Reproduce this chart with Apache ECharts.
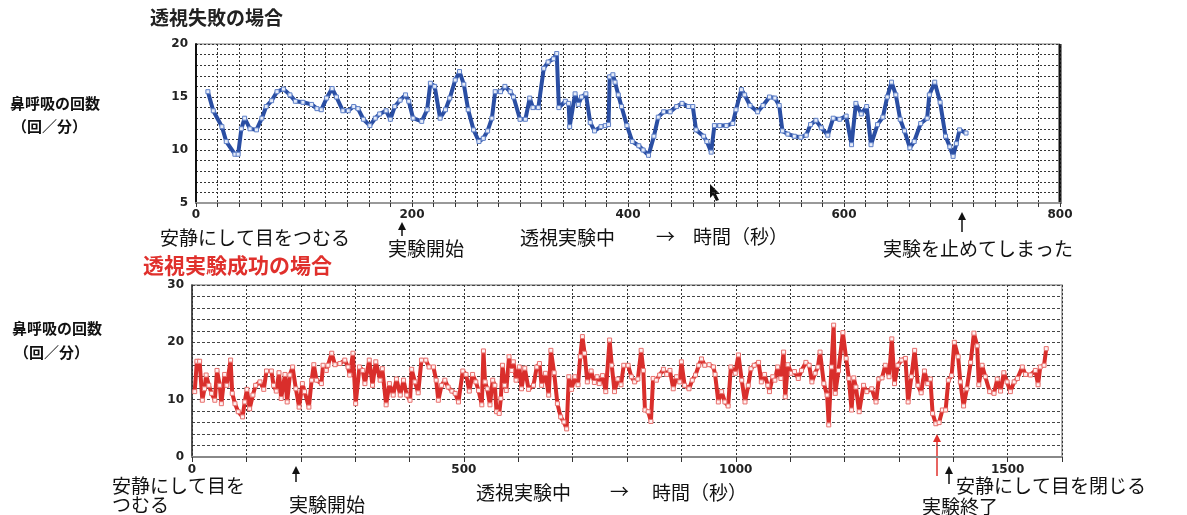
<!DOCTYPE html>
<html>
<head>
<meta charset="utf-8">
<title>鼻呼吸の回数</title>
<script src="https://cdn.jsdelivr.net/npm/echarts@6/dist/echarts.min.js"></script>
<style>
  html, body { margin: 0; padding: 0; background: #fff; }
  #main { width: 1187px; height: 515px; }
</style>
</head>
<body>
<div id="main"></div>
<script>
// 透視失敗の場合（秒, 回/分）
const failTime = [11,16,24,28,36,39,42,45,50,56,61,65,70,75,81,87,92,99,107,112,116,121,126,130,136,141,146,150,155,161,166,170,176,180,184,189,194,197,201,209,214,217,221,226,231,235,240,244,248,252,257,262,266,270,274,277,282,286,291,294,300,305,309,312,317,322,326,331,334,336,342,345,346,351,354,357,361,365,369,375,379,382,383,386,388,391,394,399,404,410,414,419,424,428,433,439,445,450,456,460,463,470,473,477,480,485,491,497,500,505,508,513,520,525,531,536,540,543,548,554,560,565,569,574,579,585,590,596,602,607,611,616,621,625,631,636,640,644,648,652,656,661,665,671,677,679,684,689,694,698,701,704,707,713];
const failRate = [15.5,13.7,12.2,10.8,9.6,9.6,12.0,13.0,12.0,11.9,13.0,14.1,14.65,15.5,15.75,15.2,14.6,14.5,14.3,13.9,13.8,14.9,15.8,15.0,13.7,13.7,14.1,13.9,12.9,12.3,13.0,13.4,13.7,12.9,14.1,14.7,15.2,14.6,13.0,12.7,13.8,16.3,16.0,13.0,13.8,14.9,16.6,17.4,16.2,13.8,11.9,10.8,11.1,11.8,13.0,15.5,15.5,16.0,15.5,15.0,12.9,12.9,14.9,14.0,14.0,17.7,18.3,18.6,19.1,14.0,14.6,14.4,12.2,15.3,14.3,15.0,15.3,12.6,11.8,12.2,12.3,12.4,16.9,17.1,16.4,15.2,14.1,12.3,10.8,10.4,10.0,9.5,11.3,13.1,13.6,13.6,14.1,14.4,14.1,14.1,11.9,11.3,10.8,9.8,12.3,12.3,12.3,12.5,13.8,15.7,15.2,14.2,13.6,14.2,15.0,14.9,14.2,11.8,11.5,11.3,11.2,11.4,12.4,12.8,12.1,11.4,13.0,12.9,13.2,10.5,14.4,13.4,14.1,10.5,12.4,13.1,15.0,16.4,15.2,12.9,11.8,10.2,10.8,12.5,13.0,15.2,16.4,14.5,11.3,10.3,9.4,10.6,11.9,11.6];

// 透視実験成功の場合（秒, 回/分）
const okTime = [5,9,14,19,23,26,31,36,42,46,51,54,60,64,71,74,79,85,93,97,101,106,112,117,125,132,137,146,150,155,160,164,171,175,180,185,191,197,203,207,215,220,224,229,238,241,247,250,257,263,272,281,287,290,296,301,308,314,318,326,332,338,346,350,357,363,370,376,383,389,395,401,404,410,416,422,430,436,444,449,453,459,465,471,478,484,490,498,504,510,516,522,527,533,536,
  539,543,548,553,557,560,565,568,571,575,578,583,588,591,596,602,606,612,619,628,634,639,643,650,656,660,666,672,678,684,689,693,698,704,710,714,718,722,727,734,740,745,749,755,761,768,772,777,783,789,794,802,808,814,820,826,830,833,839,844,848,854,860,867,873,879,885,891,897,900,906,914,920,926,932,937,943,951,959,962,968,974,980,986,991,999,1005,1011,1017,1023,1028,1034,1042,1047,1053,1059,1062,1068,
  1072,1077,1083,1088,1091,1096,1102,1108,1115,1121,1129,1135,1140,1146,1151,1155,1162,1168,1171,1176,1180,1183,1189,1197,1203,1208,1213,1217,1221,1227,1235,1241,1250,1258,1263,1269,1275,1282,1287,1292,1298,1305,1312,1317,1323,1329,1335,1341,1347,1353,1358,1362,1368,1374,1380,1386,1391,1397,1402,1409,1413,1419,1425,1432,1438,1444,1447,1453,1459,1467,1475,1481,1487,1493,1499,1505,1512,1518,1527,1533,1542,1551,1556,1560,1567,1571];
const okRate = [11.4,16.7,16.7,9.9,11.9,14.3,12.5,11.1,9.9,15.1,12.5,9.3,14.4,12.5,16.9,11.1,9.3,7.9,7.0,9.6,11.8,8.4,10.8,12.5,13.1,11.8,15.0,15.0,12.5,11.5,14.7,10.2,14.4,9.6,14.3,15.7,11.9,8.7,12.8,11.4,8.7,13.4,16.1,13.4,12.8,16.0,15.1,16.0,18.1,16.1,16.3,16.9,15.7,14.3,18.1,9.3,15.7,15.1,12.8,16.9,12.5,16.6,13.4,15.4,9.1,12.8,10.8,13.6,10.8,13.4,10.8,9.9,15.3,13.1,11.2,16.9,16.9,15.7,15.7,13.4,9.9,12.5,13.4,12.2,11.5,11.1,9.6,15.0,14.4,11.5,14.4,13.1,11.6,9.1,18.5,
  13.1,11.9,9.1,13.4,12.5,7.9,7.6,10.2,16.0,12.5,11.6,17.5,15.1,16.6,13.4,15.7,11.9,15.5,11.8,12.5,15.7,16.3,12.5,14.6,10.8,18.6,14.7,9.3,7.0,6.1,4.9,14.0,11.8,14.0,12.6,17.5,21.0,18.1,13.1,15.0,13.0,14.0,12.8,14.2,11.4,20.4,16.0,11.4,13.6,12.6,16.0,16.0,14.0,13.1,13.6,18.6,15.1,8.2,7.9,6.2,13.7,13.4,14.3,15.3,14.4,15.1,11.9,14.0,13.1,16.6,12.5,11.9,13.4,14.3,16.0,17.1,16.0,16.1,15.7,14.4,9.6,11.4,9.6,8.9,15.7,14.6,17.8,13.4,9.6,12.5,15.4,16.0,16.5,13.1,14.4,12.5,11.4,14.0,
  13.4,15.7,13.7,18.3,10.5,16.1,14.6,14.9,13.7,15.1,16.5,16.0,13.1,14.6,15.7,18.3,12.8,10.8,5.6,15.7,23.0,11.1,15.1,21.7,17.2,13.7,8.2,13.8,12.2,7.9,12.5,11.4,11.9,9.6,13.6,13.8,16.0,14.0,20.6,12.8,16.0,16.9,17.2,9.6,14.0,18.6,12.5,11.2,15.0,12.8,13.6,7.6,5.8,6.0,8.2,8.2,13.4,14.2,20.0,17.5,13.1,8.9,11.9,16.5,21.6,19.4,12.6,16.0,14.0,11.4,11.1,13.6,11.5,14.7,13.1,11.4,13.1,13.7,15.7,14.4,14.3,15.1,12.6,15.7,16.0,18.9];

const failData = failTime.map((t, i) => [t, failRate[i]]);
const okData = okTime.map((t, i) => [t, okRate[i]]);

const jp = '"Noto Sans CJK JP", sans-serif';

// 注釈テキスト
function label(text, x, y, size, color, weight) {
  return {
    type: 'text', x: x, y: y,
    style: {
      text: text, fill: color || '#111',
      font: (weight || 'normal') + ' ' + size + 'px ' + jp,
      verticalAlign: 'middle'
    }
  };
}

// 上向き矢印
function arrow(x, top, bottom, color) {
  return [
    { type: 'line', shape: { x1: x, y1: top + 5, x2: x, y2: bottom }, style: { stroke: color, lineWidth: 1.5 } },
    { type: 'polygon', shape: { points: [[x - 4, top + 8], [x, top], [x + 4, top + 8]] }, style: { fill: color } }
  ];
}

const chartDom = document.getElementById('main');
const myChart = echarts.init(chartDom);

const option = {
  animation: false,
  backgroundColor: '#fff',
  grid: [
    { left: 196, top: 44, width: 864, height: 159, show: true, borderColor: '#777', borderWidth: 1 },
    { left: 192, top: 285, width: 870, height: 172, show: true, borderColor: '#999', borderWidth: 1.5 }
  ],
  xAxis: [
    {
      gridIndex: 0, type: 'value', min: 0, max: 800, interval: 20,
      axisLine: { lineStyle: { color: '#999', width: 2 } },
      axisTick: { show: true, length: 4, lineStyle: { color: '#333' } },
      axisLabel: {
        formatter: v => (v % 200 === 0 ? v : ''),
        color: '#222', fontSize: 12, fontWeight: 'bold', fontFamily: 'DejaVu Sans', margin: 6
      },
      splitLine: { lineStyle: { color: '#333', type: [2, 2], width: 1 } }
    },
    {
      gridIndex: 1, type: 'value', min: 0, max: 1600, interval: 100,
      axisLine: { lineStyle: { color: '#888', width: 2 } },
      axisTick: { show: true, length: 5, lineStyle: { color: '#333' } },
      axisLabel: {
        formatter: v => (v % 500 === 0 ? v : ''),
        color: '#222', fontSize: 12, fontWeight: 'bold', fontFamily: 'DejaVu Sans', margin: 7
      },
      splitLine: { lineStyle: { color: '#333', type: [2, 2], width: 1 } }
    }
  ],
  yAxis: [
    {
      gridIndex: 0, type: 'value', min: 5, max: 20, interval: 1,
      axisLine: { show: true, lineStyle: { color: '#111', width: 2 } },
      axisTick: { show: false },
      axisLabel: {
        formatter: v => (v % 5 === 0 ? v : ''),
        color: '#222', fontSize: 12, fontWeight: 'bold', fontFamily: 'DejaVu Sans', margin: 8
      },
      splitLine: { lineStyle: { color: '#333', type: [2, 2], width: 1 } }
    },
    {
      gridIndex: 1, type: 'value', min: 0, max: 30, interval: 2,
      axisLine: { show: true, lineStyle: { color: '#333', width: 1.5 } },
      axisTick: { show: false },
      axisLabel: {
        formatter: v => (v % 10 === 0 ? v : ''),
        color: '#222', fontSize: 12, fontWeight: 'bold', fontFamily: 'DejaVu Sans', margin: 8
      },
      splitLine: { lineStyle: { color: '#444', type: [3, 2], width: 1 } }
    }
  ],
  series: [
    {
      name: '透視失敗の場合', type: 'line', xAxisIndex: 0, yAxisIndex: 0,
      data: failData, showAllSymbol: true, symbol: 'rect', symbolSize: 4,
      lineStyle: { color: '#2a4ea3', width: 4 },
      itemStyle: { color: '#e6ecf9', borderColor: '#5f80c8', borderWidth: 1 }
    },
    {
      name: '透視実験成功の場合', type: 'line', xAxisIndex: 1, yAxisIndex: 1,
      data: okData, showAllSymbol: true, symbol: 'rect', symbolSize: 4,
      lineStyle: { color: '#d92e2b', width: 4 },
      itemStyle: { color: '#fff0f0', borderColor: '#e8706d', borderWidth: 1 }
    }
  ],
  graphic: [
    // 上のグラフ右端の太線
    { type: 'line', shape: { x1: 1060, y1: 44, x2: 1060, y2: 204 }, style: { stroke: '#111', lineWidth: 3 } },
    label('透視失敗の場合', 150, 18, 19, '#222', 'bold'),
    label('鼻呼吸の回数', 10, 103, 15, '#111', 'bold'),
    label('（回／分）', 12, 126, 15, '#111', 'bold'),
    label('安静にして目をつむる', 160, 238, 19),
    label('実験開始', 388, 249, 19),
    label('透視実験中', 520, 238, 19),
    label('→', 656, 237, 19),
    label('時間（秒）', 693, 237, 19),
    label('実験を止めてしまった', 883, 249, 19),
    ...arrow(402, 222, 236, '#111'),
    ...arrow(962, 212, 232, '#111'),
    // マウスカーソル
    { type: 'polygon', shape: { points: [[710, 184], [710, 198], [713, 195], [716, 201], [719, 200], [716, 194], [720, 194]] }, style: { fill: '#111' } },

    label('透視実験成功の場合', 143, 265, 21, '#e0302c', 'bold'),
    label('鼻呼吸の回数', 12, 328, 15, '#111', 'bold'),
    label('（回／分）', 14, 352, 15, '#111', 'bold'),
    label('安静にして目を', 112, 486, 19),
    label('つむる', 112, 505, 19),
    label('実験開始', 289, 505, 19),
    label('透視実験中', 476, 493, 19),
    label('→', 610, 492, 19),
    label('時間（秒）', 652, 493, 19),
    label('安静にして目を閉じる', 956, 486, 19),
    label('実験終了', 922, 507, 19),
    ...arrow(296, 466, 482, '#111'),
    ...arrow(937, 434, 476, '#e0302c'),
    ...arrow(949, 466, 484, '#111')
  ]
};

option && myChart.setOption(option);
</script>
</body>
</html>
